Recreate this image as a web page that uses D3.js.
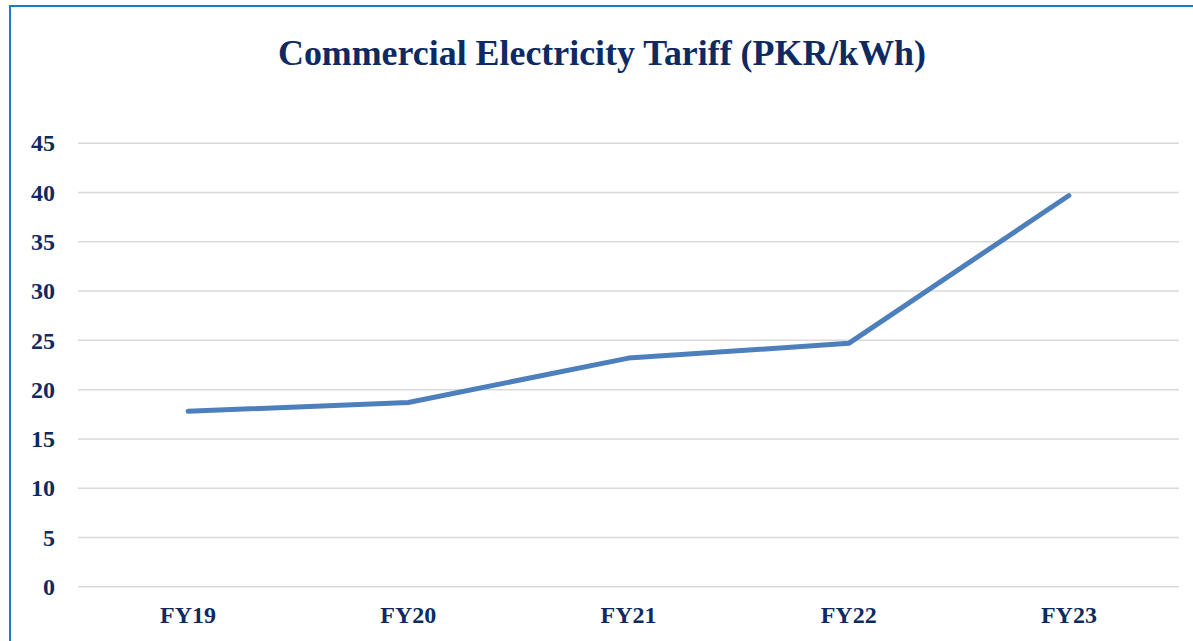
<!DOCTYPE html>
<html>
<head>
<meta charset="utf-8">
<script src="https://cdn.jsdelivr.net/npm/d3@7"></script>
<style>
  body { margin: 0; background: #fff; }
  svg { display: block; }
</style>
</head>
<body>
<svg width="1193" height="641"></svg>
<script>
// Chart data
const years = ["FY19", "FY20", "FY21", "FY22", "FY23"];
const tariff = [17.8, 18.7, 23.2, 24.7, 39.7];
const yTicks = [0, 5, 10, 15, 20, 25, 30, 35, 40, 45];

const svg = d3.select("svg");
const textColor = "#0e2a62";
const font = "'Liberation Serif', 'DejaVu Serif', serif";

// Outer frame (continues past the window on right and bottom)
svg.append("rect")
    .attr("x", 10)
    .attr("y", 6)
    .attr("width", 1300)
    .attr("height", 800)
    .attr("fill", "#fff")
    .attr("stroke", "#1a7ad4")
    .attr("stroke-width", 2);

// Plot area
const plotLeft = 78, plotRight = 1179, plotTop = 143.3, plotBottom = 586.7;

const x = d3.scaleBand()
    .domain(years)
    .range([plotLeft, plotRight]);

const y = d3.scaleLinear()
    .domain([0, 45])
    .range([plotBottom, plotTop]);

// Title
svg.append("text")
    .attr("x", 602)
    .attr("y", 65)
    .attr("text-anchor", "middle")
    .attr("font-family", font)
    .attr("font-weight", "bold")
    .attr("font-size", "35px")
    .attr("fill", textColor)
    .attr("textLength", 648)
    .attr("lengthAdjust", "spacingAndGlyphs")
    .text("Commercial Electricity Tariff (PKR/kWh)");

// Gridlines
svg.append("g")
    .selectAll("line")
    .data(yTicks)
    .enter()
    .append("line")
    .attr("x1", plotLeft)
    .attr("x2", plotRight)
    .attr("y1", d => y(d))
    .attr("y2", d => y(d))
    .attr("stroke", "#d9d9d9")
    .attr("stroke-width", 1.5);

// Y axis labels
const yAxis = svg.append("g")
    .attr("transform", `translate(${plotLeft}, 0)`)
    .call(d3.axisLeft(y).tickValues(yTicks).tickSize(0).tickPadding(23));
yAxis.select(".domain").remove();
yAxis.selectAll("text")
    .attr("font-family", font)
    .attr("font-weight", "bold")
    .attr("font-size", "24px")
    .attr("fill", textColor);

// X axis labels
const xAxis = svg.append("g")
    .attr("transform", `translate(0, ${plotBottom})`)
    .call(d3.axisBottom(x).tickSize(0).tickPadding(19));
xAxis.select(".domain").remove();
xAxis.selectAll("text")
    .attr("font-family", font)
    .attr("font-weight", "bold")
    .attr("font-size", "24px")
    .attr("fill", textColor);

// Line
const line = d3.line()
    .x((d, i) => x(years[i]) + x.bandwidth() / 2)
    .y(d => y(d));

svg.append("path")
    .datum(tariff)
    .attr("d", line)
    .attr("fill", "none")
    .attr("stroke", "#4d7fbd")
    .attr("stroke-width", 5)
    .attr("stroke-linecap", "round")
    .attr("stroke-linejoin", "round");
</script>
</body>
</html>
